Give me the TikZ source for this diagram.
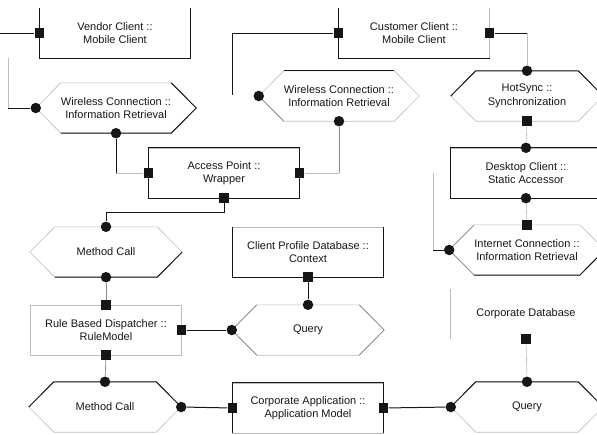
\documentclass[tikz,border=0pt]{standalone}
\usepackage{fontspec}
\setmainfont{Liberation Sans}
\usetikzlibrary{calc,backgrounds}
\definecolor{tinta}{HTML}{161616}
\definecolor{gris}{HTML}{BDBDBD}
\definecolor{grismed}{HTML}{8A8A8A}

\begin{document}
\begin{tikzpicture}[x=1pt, y=-1pt, font=\fontsize{11}{13.5}\selectfont, text=tinta,
  caja/.style={minimum width=151pt, minimum height=50pt, inner sep=0pt, align=center},
  hexa/.style={minimum width=102pt, minimum height=50pt, inner sep=0pt, align=center},
  cuad/.style={fill=tinta, minimum size=9.5pt, inner sep=0pt},
  punto/.style={circle, fill=tinta, minimum size=10.5pt, inner sep=0pt},
  linea/.style={draw=tinta, line width=1pt},
  medio/.style={draw=grismed, line width=0.7pt},
  suave/.style={draw=gris, line width=0.6pt}]
\clip (0,0) rectangle (597,434);
% components and connections
\node[caja] (vc) at (115,33) {Vendor Client ::\\Mobile Client};
\node[caja] (cu) at (414,33) {Customer Client ::\\Mobile Client};
\node[hexa] (wl) at (116,108) {Wireless Connection ::\\Information Retrieval};
\node[hexa] (wm) at (339,96) {Wireless Connection ::\\Information Retrieval};
\node[hexa] (hs) at (527,96) {HotSync ::\\Synchronization};
\node[caja] (ap) at (224,173) {Access Point ::\\Wrapper};
\node[caja] (dc) at (526,173) {Desktop Client ::\\Static Accessor};
\node[hexa] (mc1) at (106,252) {Method Call};
\node[caja] (cp) at (308,252) {Client Profile Database ::\\Context};
\node[hexa] (ic) at (527,250) {Internet Connection ::\\Information Retrieval};
\node[caja] (rb) at (106,330) {Rule Based Dispatcher ::\\RuleModel};
\node[hexa] (qm) at (308,330) {Query};
\node[caja] (db) at (526,314) {Corporate Database};
\node[hexa] (mc2) at (105,407) {Method Call};
\node[caja] (ca) at (308,408) {Corporate Application ::\\Application Model};
\node[hexa] (qr) at (527,407) {Query};

% ports
\foreach \n/\a in {vc/west, cu/west, cu/east, ap/west, ap/east, ap/south, cp/south, rb/north, rb/south, rb/east, ca/west, ca/east, db/south, hs/south, ic/north}
  \node[cuad] (\n-\a) at (\n.\a) {};
\foreach \n/\a in {wl/south, wm/south, hs/north, dc/north, dc/south, mc1/north, mc1/south, qm/north, mc2/north, qr/north}
  \node[punto] (\n-\a) at (\n.\a) {};
\foreach \n in {wl, wm, ic, qm, qr}
  \node[punto] (\n-tip) at ([xshift=-25pt]\n.west) {};
\node[punto] (mc2-tip) at ([xshift=25pt]mc2.east) {};

\coordinate (entrada) at (0,33);
\coordinate (izq) at (8,108);
\coordinate (izq-top) at (8,58);
\coordinate (suelto) at (232,95);
\coordinate (ic-sube) at (433,173);

\begin{pgfonlayer}{background}
\foreach \h in {wl, wm, hs, mc1, ic, qm, mc2, qr}
  \draw[suave] (\h.north west) -- (\h.north east) -- ([xshift=25pt]\h.east) -- (\h.south east) -- (\h.south west) -- ([xshift=-25pt]\h.west) -- cycle;
\foreach \b in {ap, dc, cp, rb, ca}
  \draw[suave] (\b.north west) rectangle (\b.south east);
\draw[suave] (cu.north east) -- (cu.south east);
\draw[suave] (db.north west) -- (db.south west);
% dark edges
\draw[linea] (vc.north west) |- (vc.south east) -- (vc.north east);
\draw[linea] (cu.north west) |- (cu.south east);
\draw[linea] (ap.north west) rectangle (ap.south east);
\draw[linea] (dc.north east) -- (dc.north west) -- (dc.south west) -- (dc.south east);
\draw[linea] (cp.north west) |- (cp.south east) -- (cp.north east);
\draw[linea] (ca.south west) |- (ca.north east) -- (ca.south east);
\draw[linea] (wl.south west) -- (wl.south east) -- ([xshift=25pt]wl.east) -- (wl.north east);
\draw[linea] (wm.north west) -- (wm.north east);
\draw[medio] ([xshift=-25pt]wm.west) -- (wm.south west);
\draw[linea] ([xshift=-25pt]hs.west) -- (hs.north west) -- (hs.north east) -- ([xshift=25pt]hs.east);
\draw[linea] (mc1.south west) -- (mc1.south east) -- ([xshift=25pt]mc1.east);
\draw[linea] (ic.south west) -- (ic.south east) -- ([xshift=25pt]ic.east);
\draw[medio] (ic.north west) -- ([xshift=-25pt]ic.west) -- (ic.south west);
\draw[medio] (qm.north west) -- ([xshift=-25pt]qm.west) -- (qm.south west);
\draw[medio] (qm.north east) -- ([xshift=25pt]qm.east) -- (qm.south east);
\draw[linea] ([xshift=-25pt]mc2.west) -- (mc2.north west) -- (mc2.north east) -- ([xshift=25pt]mc2.east);
\draw[linea] ([xshift=-25pt]qr.west) -- (qr.north west) -- (qr.north east) -- ([xshift=25pt]qr.east);
% connectors
\draw[linea] (entrada) -- (vc-west);
\draw[suave] (izq-top) -- (izq);
\draw[linea] (izq) -- (wl-tip);
\draw[linea] (wl-south) -- (wl-south |- ap-west);
\draw[suave] (wl-south |- ap-west) -- (ap-west);
\draw[linea] (cu-west) -| (suelto);
\draw[linea] (cu-east) -- (cu-east -| hs-north);
\draw[suave] (cu-east -| hs-north) -- (hs-north);
\draw[suave] (hs-south) -- (dc-north);
\draw[suave] (dc-south) -- (ic-north);
\draw[medio] (wm-south) -- (wm-south |- ap-east);
\draw[suave] (wm-south |- ap-east) -- (ap-east);
\draw[linea] (ic-tip) -- (ic-tip -| ic-sube);
\draw[suave] (ic-tip -| ic-sube) -- (ic-sube);
\draw[linea] (ap-south) -- ++(0,14) -| (mc1-north);
\draw[medio] (mc1-south) -- (rb-north);
\draw[linea] (rb-east) -- (qm-tip);
\draw[linea] (cp-south) -- (qm-north);
\draw[medio] (rb-south) -- (mc2-north);
\draw[linea] (mc2-tip) -- (ca-west);
\draw[linea] (ca-east) -- (qr-tip);
\draw[suave] (db-south) -- (qr-north);
\end{pgfonlayer}
\end{tikzpicture}
\end{document}
